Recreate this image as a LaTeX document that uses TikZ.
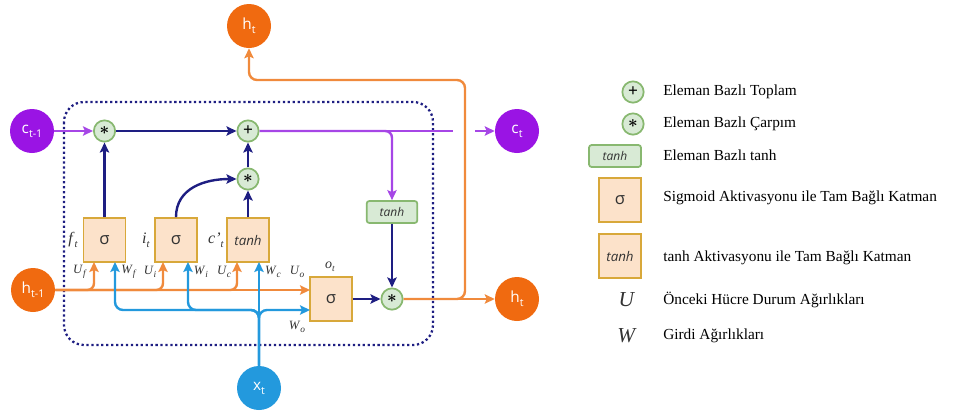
\documentclass[tikz,border=0pt]{standalone}
\usepackage{fontspec}
\setmainfont{Liberation Serif}
\newfontfamily\dsans{Open Sans}
\usepackage{amsmath}
\usepackage{graphicx}
\usetikzlibrary{arrows.meta}
\definecolor{navy}{HTML}{1E1E82}
\definecolor{purpf}{HTML}{9A14E4}
\definecolor{purpl}{HTML}{A646E6}
\definecolor{orngf}{HTML}{F06A10}
\definecolor{orngl}{HTML}{F08A3C}
\definecolor{blu}{HTML}{2399DD}
\definecolor{gfill}{HTML}{D8EAD5}
\definecolor{gdraw}{HTML}{88B870}
\definecolor{ofill}{HTML}{FCE2CA}
\definecolor{odraw}{HTML}{D8A83A}
\definecolor{txt}{HTML}{333333}
\newcommand\sbs[1]{\raisebox{-0.5ex}{\fontsize{8}{8}\selectfont #1}}
\newcommand\lab[2]{\textit{#1}\raisebox{-0.5ex}{\fontsize{7}{7}\selectfont\textit{#2}}}
\newcommand\mystar{\scalebox{1.15}{$\boldsymbol{\ast}$}}
\newcommand\myplus{{\fontsize{13}{13}\selectfont\bfseries +}}
\tikzset{
  io/.style={circle, minimum size=33pt, inner sep=0pt, text=white, font=\dsans\fontsize{11.5}{11.5}\selectfont},
  opc/.style={circle, minimum size=16pt, inner sep=0pt, fill=gfill, draw=gdraw, line width=1.3pt, text=black, font=\bfseries\fontsize{11}{11}\selectfont},
  gatebox/.style={rectangle, minimum width=31.5pt, minimum height=33pt, inner sep=0pt, fill=ofill, draw=odraw, line width=1.3pt, text=txt, font=\dsans\fontsize{12.5}{12.5}\selectfont},
  gtbox/.style={rectangle, rounded corners=2pt, minimum width=38pt, minimum height=16.5pt, inner sep=0pt, fill=gfill, draw=gdraw, line width=1.3pt, text=txt, font=\dsans\itshape\fontsize{9}{9}\selectfont},
  nline/.style={draw=navy, line width=1.8pt, -{Stealth[length=7.5pt,width=7pt,inset=1.5pt]}},
  pline/.style={draw=purpl, line width=1.8pt},
  oline/.style={draw=orngl, line width=1.8pt},
  bline/.style={draw=blu, line width=1.8pt},
  tip/.style={-{Stealth[length=7.5pt,width=7pt,inset=1.5pt]}},
  wlab/.style={text=txt, font=\fontsize{9.5}{9.5}\selectfont, inner sep=0pt},
  glab/.style={text=txt, font=\fontsize{12}{12}\selectfont, inner sep=0pt},
  legtxt/.style={anchor=west, text=black, font=\fontsize{11.5}{13}\selectfont, inner sep=0pt}
}
\begin{document}
\begin{tikzpicture}[x=0.75pt,y=-0.75pt]
\useasboundingbox (0,0) rectangle (968,412);
% dotted cell boundary
\draw[navy, dotted, line width=1.7pt, rounded corners=15pt] (64,102) rectangle (433,345);

% inputs / outputs
\node[io, fill=purpf] (cprev) at (32,131) {c\sbs{t-1}};
\node[io, fill=orngf] (hprev) at (33,290) {h\sbs{t-1}};
\node[io, fill=blu] (xt) at (259,388) {x\sbs{t}};
\node[io, fill=orngf] (htop) at (249,26) {h\sbs{t}};
\node[io, fill=purpf] (ct) at (517,131) {c\sbs{t}};
\node[io, fill=orngf] (hnext) at (517,299) {h\sbs{t}};

% operations
\node[opc] (mf) at (104.5,131) {\mystar};
\node[opc] (add) at (248,131) {\myplus};
\node[opc] (mi) at (248,179) {\mystar};
\node[opc] (mo) at (392,299) {\mystar};
\node[gatebox] (fg) at (104.5,240) {σ};
\node[gatebox] (ig) at (176,240) {σ};
\node[gatebox, font=\dsans\itshape\fontsize{10}{10}\selectfont] (cg) at (248,240) {tanh};
\node[gatebox] (og) at (331,299) {σ};
\node[gtbox] (th) at (392,212) {tanh};

% coordinates
\coordinate (cend) at (453,131);
\coordinate (cgap) at (475,131);
\coordinate (uf) at (94,262);
\coordinate (ui) at (163,262);
\coordinate (uc) at (237,262);
\coordinate (wf) at (115,262);
\coordinate (wi) at (188,262);
\coordinate (wc) at (259,262);
\coordinate (bj) at (259,310);
\coordinate (oin) at (310,310);
\coordinate (hin) at (310,290);
\coordinate (hbr) at (465,80);

% cell state line
\draw[pline, tip] (cprev) -- (mf);
\draw[nline] (mf) -- (add);
\draw[pline] (add.east) -- (cend);
\draw[pline, tip] (cgap) -- (ct);
\draw[pline, rounded corners=5pt, tip] (add.east) -| (th.north);

% navy internal arrows
\draw[nline] (fg.north) -- (mf.south);
\draw[nline] (cg.north) -- (mi.south);
\draw[nline] (mi.north) -- (add.south);
\draw[nline] (ig.north) .. controls (176,188) and (205,179) .. (mi.west);
\draw[nline] (th.south) -- (mo.north);
\draw[nline] (og.east) -- (mo.west);

% outputs
\draw[oline, tip] (mo.east) -- (hnext);
\draw[oline, rounded corners=6pt, tip] (mo.east) -| (hbr) -| (htop.south);

% h_{t-1} branches
\draw[oline, tip] (hprev.east) -- (hin);
\draw[oline, rounded corners=5pt, tip] (hprev.east) -| (uf);
\draw[oline, rounded corners=5pt, tip] (hprev.east) -| (ui);
\draw[oline, rounded corners=5pt, tip] (hprev.east) -| (uc);

% x_t branches
\draw[bline, tip] (xt.north) -- (wc);
\draw[bline, rounded corners=6pt, tip] (xt.north) -- (bj) -| (wf);
\draw[bline, rounded corners=6pt, tip] (xt.north) -- (bj) -| (wi);
\draw[bline, rounded corners=6pt, tip] (xt.north) -- (bj) -- (oin);

% weight labels
\node[wlab] (luf) at (80,272) {\lab{U}{f}};
\node[wlab] (lwf) at (129,272) {\lab{W}{f}};
\node[wlab] (lui) at (150,272) {\lab{U}{i}};
\node[wlab] (lwi) at (201,272) {\lab{W}{i}};
\node[wlab] (luc) at (224,272) {\lab{U}{c}};
\node[wlab] (lwc) at (273,272) {\lab{W}{c}};
\node[wlab] (luo) at (297,272) {\lab{U}{o}};
\node[wlab] (lwo) at (297,327) {\lab{W}{o}};
\node[glab] (lft) at (73,240) {\textit{f}\raisebox{-0.5ex}{\fontsize{8}{8}\selectfont\textit{t}}};
\node[glab] (lit) at (146,240) {\textit{i}\raisebox{-0.5ex}{\fontsize{8}{8}\selectfont\textit{t}}};
\node[glab] (lct) at (216,240) {\textit{c'}\raisebox{-0.5ex}{\fontsize{8}{8}\selectfont\textit{t}}};
\node[glab, font=\fontsize{10.5}{10.5}\selectfont] (lot) at (330,267) {\textit{o}\raisebox{-0.5ex}{\fontsize{7}{7}\selectfont\textit{t}}};

% legend
\node[opc] (l1) at (633,92) {\myplus};
\node[legtxt] (t1) at (663,92) {Eleman Bazlı Toplam};
\node[opc] (l2) at (633,124) {\mystar};
\node[legtxt] (t2) at (663,124) {Eleman Bazlı Çarpım};
\node[gtbox, minimum width=39pt] (l3) at (615,156) {tanh};
\node[legtxt] (t3) at (663,155) {Eleman Bazlı tanh};
\node[gatebox] (l4) at (620,200) {σ};
\node[legtxt] (t4) at (663,198) {Sigmoid Aktivasyonu ile Tam Bağlı Katman};
\node[gatebox, font=\dsans\itshape\fontsize{10}{10}\selectfont] (l5) at (620,256) {tanh};
\node[legtxt] (t5) at (663,258) {tanh Aktivasyonu ile Tam Bağlı Katman};
\node[text=txt, font=\fontsize{16}{16}\selectfont, inner sep=0pt] (l6) at (627,300) {\textit{U}};
\node[legtxt] (t6) at (663,300) {Önceki Hücre Durum Ağırlıkları};
\node[text=txt, font=\fontsize{16}{16}\selectfont, inner sep=0pt] (l7) at (627,336) {\textit{W}};
\node[legtxt] (t7) at (663,336) {Girdi Ağırlıkları};
\end{tikzpicture}
\end{document}
